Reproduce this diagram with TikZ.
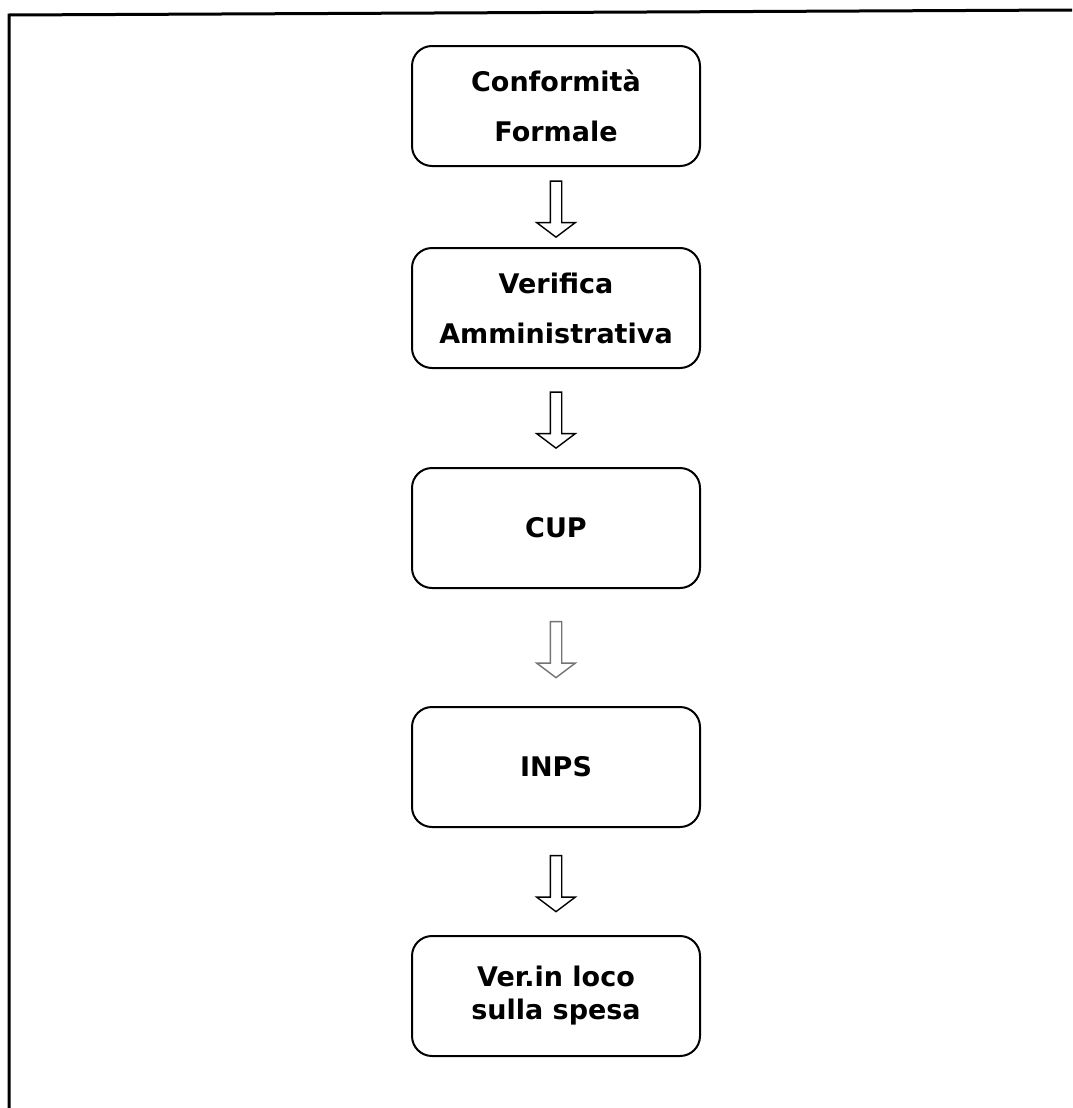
\documentclass[tikz,border=0pt]{standalone}
\usepackage{fontspec}
\setmainfont{DejaVu Sans}
\usetikzlibrary{shapes.arrows}

\tikzset{
fase/.style={draw, line width=1pt, rounded corners=10pt, minimum width=144pt, minimum height=60pt, align=center, font=\bfseries\fontsize{13.5}{25}\selectfont},
freccia/.style={single arrow, draw, line width=0.7pt, fill=white, shape border rotate=270, inner sep=2.5pt, minimum height=28pt, single arrow head extend=6.75pt, single arrow tip angle=106}
}

\begin{document}
\begin{tikzpicture}[x=0.5pt,y=-0.5pt]
\useasboundingbox (0,0) rectangle (1072,1108);
\draw[line width=1.5pt] (9,1108)--(9,15)--(1072,10);

\node[fase] (conf) at (556,106) {Conformità\\Formale};
\node[fase] (verif) at (556,308) {Verifica\\Amministrativa};
\node[fase] (cup) at (556,528) {CUP};
\node[fase] (inps) at (556,767) {INPS};
\node[fase, font=\bfseries\fontsize{13.5}{16.5}\selectfont] (loco) at (556,996) {Ver.in loco\\sulla spesa};

\foreach \a/\b/\c in {conf/verif/black, verif/cup/black, cup/inps/black!55, inps/loco/black}{
\path (\a.south) -- node[freccia, draw=\c]{} (\b.north);
}
\end{tikzpicture}
\end{document}
